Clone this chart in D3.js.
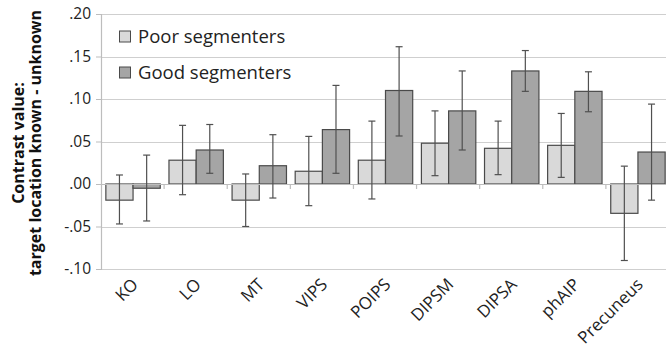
<!DOCTYPE html>
<html>
<head>
<meta charset="utf-8">
<script src="https://cdn.jsdelivr.net/npm/d3@7"></script>
<style>
  html, body { margin: 0; padding: 0; background: #fff; }
  svg { display: block; }
</style>
</head>
<body>
<svg id="chart" width="666" height="348"></svg>
<script>
const categories = ["KO", "LO", "MT", "VIPS", "POIPS", "DIPSM", "DIPSA", "phAIP", "Precuneus"];
const seriesNames = ["Poor segmenters", "Good segmenters"];
const poorValues = [-0.019, 0.028, -0.019, 0.015, 0.028, 0.048, 0.042, 0.0455, -0.0345];
const poorLow    = [-0.047, -0.0126, -0.050, -0.0255, -0.0176, 0.0098, 0.011, 0.0078, -0.090];
const poorHigh   = [0.0106, 0.069, 0.0118, 0.056, 0.074, 0.086, 0.074, 0.083, 0.021];
const goodValues = [-0.005, 0.040, 0.0215, 0.064, 0.110, 0.086, 0.133, 0.109, 0.0376];
const goodLow    = [-0.0435, 0.0126, -0.0165, 0.0126, 0.0565, 0.040, 0.109, 0.085, -0.019];
const goodHigh   = [0.034, 0.070, 0.058, 0.116, 0.1615, 0.133, 0.157, 0.132, 0.094];
const yTicks = [-0.10, -0.05, 0.00, 0.05, 0.10, 0.15, 0.20];
const yTickLabels = ["-.10", "-.05", ".00", ".05", ".10", ".15", ".20"];
const yTitle = ["Contrast value:", "target location known - unknown"];

const colors = ["#d9d9d9", "#a5a5a5"];
const font = "'Open Sans', 'Liberation Sans', sans-serif";

const svg = d3.select("#chart");
const mLeft = 101, mRight = 669, mTop = 14, mBottom = 269;

const x = d3.scaleBand().domain(categories).range([mLeft, mRight]).paddingInner(0).paddingOuter(0);
const inner = d3.scaleBand().domain([0, 1]).range([0, x.bandwidth()]).paddingOuter(0.16).paddingInner(0);
const y = d3.scaleLinear().domain([-0.10, 0.20]).range([mBottom, mTop]);

// gridlines
svg.append("g").selectAll("line").data(yTicks.filter(t => t !== 0)).join("line")
  .attr("x1", mLeft).attr("x2", 666)
  .attr("y1", d => Math.round(y(d)) + 0.5).attr("y2", d => Math.round(y(d)) + 0.5)
  .attr("stroke", "#cfcfcf").attr("stroke-width", 1.2);

// y axis
const yAxis = d3.axisLeft(y).tickValues(yTicks).tickFormat((d, i) => yTickLabels[i]).tickSize(5).tickPadding(5);
const yG = svg.append("g").attr("transform", `translate(${mLeft},0)`).call(yAxis);
yG.select(".domain").attr("stroke", "#bdbdbd").attr("stroke-width", 1.2);
yG.selectAll(".tick line").attr("stroke", "#bdbdbd");
yG.selectAll(".tick text").attr("font-family", font).attr("font-size", 15.5).attr("fill", "#222");

// y title
const yt = svg.append("text")
  .attr("transform", `translate(24,143) rotate(-90)`)
  .attr("text-anchor", "middle")
  .attr("font-family", font).attr("font-weight", "bold").attr("font-size", 16).attr("fill", "#111");
yt.append("tspan").attr("x", 0).attr("dy", 0).text(yTitle[0]);
yt.append("tspan").attr("x", 0).attr("dy", 17).text(yTitle[1]);

// bars
const series = [
  { vals: poorValues, lo: poorLow, hi: poorHigh },
  { vals: goodValues, lo: goodLow, hi: goodHigh }
];
series.forEach((s, si) => {
  const g = svg.append("g");
  g.selectAll("rect").data(categories).join("rect")
    .attr("x", c => x(c) + inner(si) + 0.5)
    .attr("width", inner.bandwidth())
    .attr("y", (c, i) => y(Math.max(0, s.vals[i])))
    .attr("height", (c, i) => Math.abs(y(s.vals[i]) - y(0)))
    .attr("fill", colors[si]).attr("stroke", "#4a4a4a").attr("stroke-width", 1.2);
});

// zero axis
svg.append("line").attr("x1", mLeft).attr("x2", 666)
  .attr("y1", Math.round(y(0)) + 0.5).attr("y2", Math.round(y(0)) + 0.5)
  .attr("stroke", "#bdbdbd").attr("stroke-width", 1.2);
// category ticks
svg.append("g").selectAll("line").data(categories.slice(1)).join("line")
  .attr("x1", c => x(c)).attr("x2", c => x(c))
  .attr("y1", y(0)).attr("y2", y(0) + 5)
  .attr("stroke", "#bdbdbd").attr("stroke-width", 1.2);

// error bars
series.forEach((s, si) => {
  const g = svg.append("g").attr("stroke", "#505050").attr("stroke-width", 1.2);
  categories.forEach((c, i) => {
    const cx = x(c) + inner(si) + inner.bandwidth() / 2 + 0.5;
    g.append("line").attr("x1", cx).attr("x2", cx).attr("y1", y(s.hi[i])).attr("y2", y(s.lo[i]));
    g.append("line").attr("x1", cx - 3.5).attr("x2", cx + 3.5).attr("y1", y(s.hi[i])).attr("y2", y(s.hi[i]));
    g.append("line").attr("x1", cx - 3.5).attr("x2", cx + 3.5).attr("y1", y(s.lo[i])).attr("y2", y(s.lo[i]));
  });
});

// x labels
svg.append("g").selectAll("text").data(categories).join("text")
  .attr("transform", c => `translate(${x(c) + x.bandwidth() / 2 - 2},${y(-0.10) + 8}) rotate(-45)`)
  .attr("text-anchor", "end").attr("dy", "0.71em")
  .attr("font-family", font).attr("font-size", 17).attr("fill", "#222")
  .text(c => c);

// legend
const leg = svg.append("g");
seriesNames.forEach((n, i) => {
  const yy = 36.5 + i * 36;
  leg.append("rect").attr("x", 119.5).attr("y", yy - 5.5).attr("width", 11).attr("height", 11)
    .attr("fill", colors[i]).attr("stroke", "#4a4a4a").attr("stroke-width", 1);
  leg.append("text").attr("x", 138).attr("y", yy).attr("dy", "0.35em")
    .attr("font-family", font).attr("font-size", 18.5).attr("fill", "#222").text(n);
});
</script>
</body>
</html>
